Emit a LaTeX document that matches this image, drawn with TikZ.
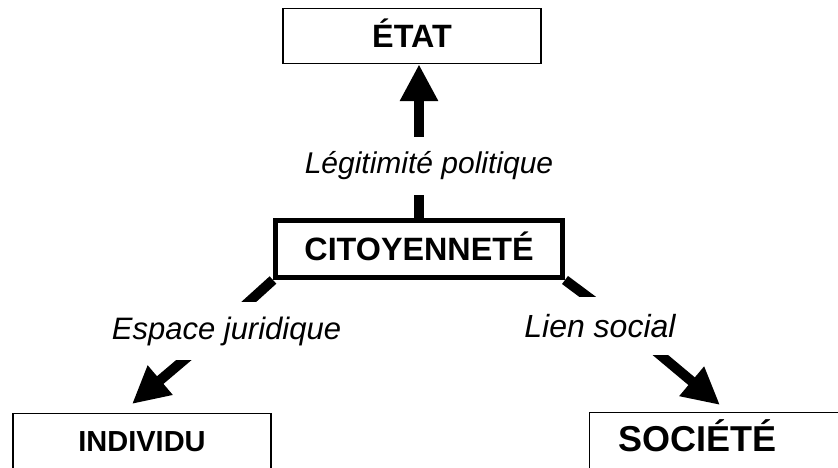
\documentclass[tikz,border=0pt]{standalone}
\usepackage{fontspec}
\setmainfont{Liberation Sans}
\usetikzlibrary{arrows.meta}
\begin{document}
\begin{tikzpicture}[>={Triangle[width=36bp,length=37bp]},line join=miter,
  box/.style={draw,line width=1.5bp,minimum width=258bp,minimum height=55bp,
    font=\fontsize{32.3bp}{38bp}\selectfont\bfseries,text height=22.5bp,text depth=0bp},
  mainbox/.style={box,line width=5bp,minimum width=287bp,minimum height=57bp},
  openbox/.style={box,anchor=base,minimum height=0bp,inner ysep=16.75bp,text depth=30bp},
  shaft/.style={line width=10bp},
  label/.style={fill=white,inner xsep=2bp,minimum height=58bp,
    font=\fontsize{30bp}{35bp}\selectfont\itshape},]
\clip (0bp,0bp) rectangle (838bp,468bp);
%%
\node (node_etat) at (412.0bp,432.0bp) [box] {ÉTAT};
  \node (node_cit) at (419.0bp,219.0bp) [mainbox] {CITOYENNETÉ};
  \node (node_ind) at (142.0bp,16.5bp) [openbox,text height=21bp,font=\fontsize{29bp}{34bp}\selectfont\bfseries] {INDIVIDU};
  \node (node_soc) at (588.75bp,16.5bp) [openbox,anchor=base west,minimum width=0bp,inner xsep=29bp,
    text width=230bp,align=left,text height=24bp,inner ysep=14.75bp,font=\fontsize{36bp}{42bp}\selectfont\bfseries] {SOCIÉTÉ};
  \coordinate (c_esp_top) at (231.0bp,150.0bp);
  \coordinate (c_esp_bot) at (204.0bp,125.0bp);
  \coordinate (c_ind_tip) at (132.0bp,64.0bp);
  \coordinate (c_lien_top) at (616.0bp,150.0bp);
  \coordinate (c_lien_bot) at (646.0bp,125.0bp);
  \coordinate (c_soc_tip) at (720.0bp,63.0bp);
  \draw [shaft,->] (node_cit.north) -- (node_cit.north |- node_etat.south);
  \draw [shaft] (node_cit.south west) -- (c_esp_top);
  \draw [shaft,->] (c_esp_bot) -- (c_ind_tip);
  \draw [shaft] (node_cit.south east) -- (c_lien_top);
  \draw [shaft,->] (c_lien_bot) -- (c_soc_tip);
  \node (label_leg) at (429.0bp,302.0bp) [label] {Légitimité politique};
  \node (label_esp) at (226.5bp,137.0bp) [label,font=\fontsize{31bp}{36bp}\selectfont\itshape] {Espace juridique};
  \node (label_lien) at (600.0bp,142.0bp) [label,font=\fontsize{32bp}{37bp}\selectfont\itshape] {Lien social};
%
\end{tikzpicture}
\end{document}
